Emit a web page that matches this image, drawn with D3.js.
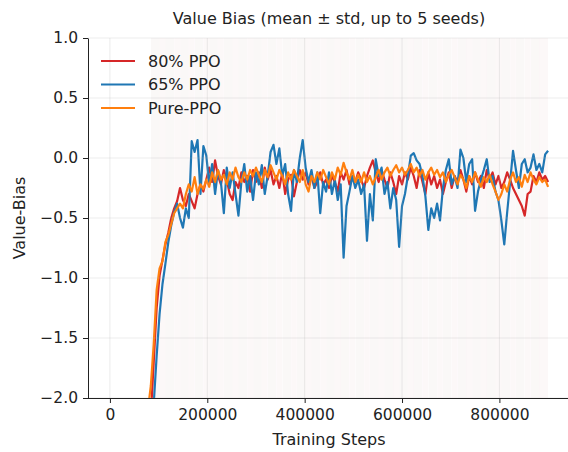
<!DOCTYPE html>
<html>
<head>
<meta charset="utf-8">
<script src="https://cdn.jsdelivr.net/npm/d3@7"></script>
<style>
  body { margin: 0; background: #fff; }
  text { font-family: "DejaVu Sans", sans-serif; fill: #222; }
</style>
</head>
<body>
<svg id="chart" width="568" height="452"></svg>
<script>
// training steps: logged every 6000 steps from 78000 to 900000
var stepStart = 78000
var stepSize = 6000

var seriesNames = ['80% PPO', '65% PPO', 'Pure-PPO']
var seriesColors = ['#d62728', '#1f77b4', '#ff7f0e']

var bias80 = [-2.6,-2.15,-1.7,-1.25,-0.98,-0.85,-0.72,-0.62,-0.5,-0.42,
  -0.36,-0.25,-0.35,-0.4,-0.3,-0.36,-0.42,-0.3,-0.22,-0.28,
  -0.18,-0.08,-0.2,-0.02,-0.15,-0.22,-0.1,-0.18,-0.3,-0.35,
  -0.2,-0.25,-0.12,-0.2,-0.15,-0.28,-0.1,-0.2,-0.12,-0.25,
  -0.08,-0.18,-0.1,-0.22,-0.15,-0.25,-0.12,-0.3,-0.18,-0.14,
  -0.32,-0.2,-0.1,-0.18,-0.12,-0.22,-0.15,-0.25,-0.2,-0.12,
  -0.22,-0.18,-0.25,-0.15,-0.2,-0.28,-0.12,-0.18,-0.1,-0.22,
  -0.15,-0.2,-0.12,-0.18,-0.25,-0.15,-0.08,-0.02,-0.12,-0.2,
  -0.1,-0.18,-0.25,-0.12,-0.2,-0.3,-0.15,-0.22,-0.12,-0.18,
  -0.08,-0.15,-0.25,-0.1,-0.2,-0.3,-0.12,-0.22,-0.15,-0.25,
  -0.18,-0.3,-0.2,-0.12,-0.25,-0.15,-0.2,-0.1,-0.18,-0.28,
  -0.15,-0.22,-0.12,-0.2,-0.15,-0.25,-0.1,-0.18,-0.12,-0.22,
  -0.15,-0.25,-0.2,-0.12,-0.18,-0.25,-0.3,-0.35,-0.4,-0.48,
  -0.3,-0.28,-0.15,-0.2,-0.12,-0.18,-0.15,-0.2]

var bias65 = [-3.0,-2.5,-2.05,-1.65,-1.3,-1.05,-0.88,-0.7,-0.56,-0.45,
  -0.38,-0.5,-0.58,-0.42,-0.5,0.14,0.05,0.15,-0.3,0.1,
  0.02,-0.22,-0.05,-0.3,-0.1,-0.2,-0.46,-0.08,-0.25,-0.12,
  -0.3,-0.48,-0.2,-0.05,-0.28,-0.15,-0.35,-0.12,-0.22,-0.06,
  -0.3,-0.15,0.05,0.11,-0.05,0.08,-0.15,-0.05,-0.3,-0.44,
  -0.1,-0.2,0.0,0.15,-0.08,-0.2,-0.1,-0.25,-0.12,-0.46,
  -0.2,-0.28,-0.12,-0.3,-0.18,-0.35,-0.22,-0.83,-0.4,-0.28,
  -0.15,-0.25,-0.18,-0.3,-0.22,-0.69,-0.3,-0.52,-0.01,-0.15,
  -0.08,-0.3,-0.2,-0.42,-0.25,-0.35,-0.74,-0.4,-0.3,-0.15,
  0.02,0.04,-0.02,-0.05,-0.15,-0.32,-0.6,-0.42,-0.5,-0.38,
  -0.52,-0.25,-0.1,-0.01,-0.22,-0.15,-0.25,0.07,0.0,-0.2,
  -0.05,-0.01,-0.44,-0.28,-0.18,-0.1,-0.01,-0.2,-0.15,-0.28,
  -0.35,-0.52,-0.72,-0.45,-0.2,0.06,-0.1,-0.25,-0.05,-0.01,
  -0.12,-0.08,0.03,-0.1,-0.05,-0.12,0.03,0.06]

var biasPure = [-2.1,-1.9,-1.55,-1.1,-0.92,-0.86,-0.7,-0.64,-0.55,-0.46,
  -0.42,-0.38,-0.42,-0.3,-0.22,-0.28,-0.16,-0.3,-0.22,-0.26,
  -0.18,-0.24,-0.12,-0.2,-0.1,-0.18,-0.14,-0.22,-0.12,-0.18,
  -0.08,-0.16,-0.2,-0.12,-0.18,-0.1,-0.15,-0.08,-0.14,-0.2,
  -0.1,-0.16,-0.06,-0.12,-0.18,-0.1,-0.15,-0.22,-0.12,-0.18,
  -0.1,-0.15,-0.2,-0.1,-0.22,-0.28,-0.15,-0.2,-0.12,-0.18,
  -0.1,-0.16,-0.22,-0.12,-0.18,-0.08,-0.14,-0.04,-0.12,-0.18,
  -0.1,-0.2,-0.14,-0.2,-0.12,-0.2,-0.15,-0.22,-0.16,-0.1,
  -0.18,-0.12,-0.08,-0.15,-0.1,-0.06,-0.12,-0.08,-0.14,-0.1,
  -0.05,-0.12,-0.08,-0.15,-0.1,-0.18,-0.12,-0.08,-0.14,-0.1,
  -0.16,-0.12,-0.2,-0.14,-0.1,-0.16,-0.22,-0.14,-0.18,-0.25,
  -0.15,-0.2,-0.12,-0.18,-0.24,-0.16,-0.2,-0.14,-0.22,-0.28,
  -0.35,-0.3,-0.22,-0.28,-0.18,-0.12,-0.2,-0.16,-0.24,-0.14,
  -0.2,-0.12,-0.18,-0.22,-0.16,-0.2,-0.18,-0.24]

// std band (very wide, so it fills the whole plot height once clipped)
var bandSteps = [84000,102000,114000,132000,144000,162000,174000,192000,204000,222000,
  234000,252000,264000,282000,294000,312000,324000,342000,354000,372000,
  384000,402000,414000,432000,444000,462000,474000,492000,504000,522000,
  534000,552000,564000,582000,594000,612000,624000,642000,654000,672000,
  684000,702000,714000,732000,744000,762000,774000,792000,804000,822000,
  834000,852000,864000,882000,900000]
var std80 = [4.1,3.6,3.9,4.4,3.8,4.2,3.7,4.0,4.5,3.9,4.1,3.8,4.3,3.6,4.0,4.2,3.9,4.4,3.7,4.1,3.8,4.0,4.3,3.9,4.2,3.7,4.0,
  4.1,3.6,3.9,4.4,3.8,4.2,3.7,4.0,4.5,3.9,4.1,3.8,4.3,3.6,4.0,4.2,3.9,4.4,3.7,4.1,3.8,4.0,4.3,3.9,4.2,3.7,4.0]
var std65 = [5.2,4.8,5.5,4.9,5.1,4.6,5.3,5.0,4.7,5.4,4.9,5.2,4.8,5.0,5.3,4.7,5.1,4.9,5.5,4.8,5.0,5.2,4.6,5.1,4.9,5.3,5.0,
  5.2,4.8,5.5,4.9,5.1,4.6,5.3,5.0,4.7,5.4,4.9,5.2,4.8,5.0,5.3,4.7,5.1,4.9,5.5,4.8,5.0,5.2,4.6,5.1,4.9,5.3,5.0]
var stdPure = [3.6,3.9,3.4,3.8,3.5,4.0,3.7,3.4,3.9,3.6,3.8,3.5,3.7,4.0,3.4,3.8,3.6,3.9,3.5,3.7,4.0,3.6,3.8,3.4,3.7,3.9,3.6,
  3.6,3.9,3.4,3.8,3.5,4.0,3.7,3.4,3.9,3.6,3.8,3.5,3.7,4.0,3.4,3.8,3.6,3.9,3.5,3.7,4.0,3.6,3.8,3.4,3.7,3.9,3.6]

var xTicks = [0, 200000, 400000, 600000, 800000]
var yTicks = [-2.0, -1.5, -1.0, -0.5, 0.0, 0.5, 1.0]

var W = 568, H = 452
var margin = ({top: 38, right: -2, bottom: 54, left: 88})
var fontSize = 15.5

var svg = d3.select('#chart')

var x = d3.scaleLinear()
    .domain([-45000, 945000])
    .range([margin.left, W - margin.right])
var y = d3.scaleLinear()
    .domain([-2, 1])
    .range([H - margin.bottom, margin.top])

svg.append('defs').append('clipPath').attr('id', 'plotclip')
    .append('rect')
    .attr('x', margin.left).attr('y', margin.top)
    .attr('width', W - margin.right - margin.left)
    .attr('height', H - margin.bottom - margin.top)

var series = [bias80, bias65, biasPure].map(function(vals){
    return vals.map(function(v, i){ return {step: stepStart + i * stepSize, v: v} })
})
var stds = [std80, std65, stdPure]

var plot = svg.append('g').attr('clip-path', 'url(#plotclip)')

// std bands: one rect per logging window, very low alpha
stds.forEach(function(sd, k){
    var means = series[k]
    plot.append('g').selectAll('rect')
        .data(sd.map(function(s, i){
            var lo = bandSteps[i], hi = bandSteps[i + 1]
            var m = means.filter(d => d.step >= lo && d.step <= hi)
            var mu = d3.mean(m, d => d.v)
            return {lo: lo, hi: hi, top: mu + s, bot: mu - s}
        }))
        .join('rect')
        .attr('x', d => x(d.lo))
        .attr('width', d => x(d.hi) - x(d.lo))
        .attr('y', d => y(Math.min(d.top, 1.2)))
        .attr('height', d => y(Math.max(d.bot, -2.2)) - y(Math.min(d.top, 1.2)))
        .attr('fill', seriesColors[k])
        .attr('fill-opacity', (d, i) => i % 2 ? 0.011 : 0.016)
})

// grid
svg.append('g').selectAll('line')
    .data(xTicks)
    .join('line')
    .attr('x1', d => x(d)).attr('x2', d => x(d))
    .attr('y1', margin.top).attr('y2', H - margin.bottom)
    .attr('stroke', '#b0b0b0').attr('stroke-opacity', 0.3).attr('stroke-width', 0.8)
svg.append('g').selectAll('line')
    .data(yTicks)
    .join('line')
    .attr('x1', margin.left).attr('x2', W)
    .attr('y1', d => y(d)).attr('y2', d => y(d))
    .attr('stroke', '#b0b0b0').attr('stroke-opacity', 0.3).attr('stroke-width', 0.8)

var line = d3.line()
    .x(d => x(d.step))
    .y(d => y(d.v))

series.forEach(function(s, k){
    plot.append('path')
        .datum(s)
        .attr('fill', 'none')
        .attr('stroke', seriesColors[k])
        .attr('stroke-width', 2.2)
        .attr('stroke-linejoin', 'round')
        .attr('d', line)
})

// axes
var xAxis = g => g
    .attr('transform', `translate(0,${H - margin.bottom})`)
    .call(d3.axisBottom(x).tickValues(xTicks).tickFormat(d3.format('d')).tickSize(5).tickPadding(6).tickSizeOuter(0))
var yAxis = g => g
    .attr('transform', `translate(${margin.left},0)`)
    .call(d3.axisLeft(y).tickValues(yTicks).tickFormat(d3.format('.1f')).tickSize(5).tickPadding(5).tickSizeOuter(0))

var gx = svg.append('g').call(xAxis)
var gy = svg.append('g').call(yAxis)
gx.select('.domain').attr('d', `M${margin.left},0.5H${W}`)
;[gx, gy].forEach(function(g){
    g.selectAll('text').attr('font-size', fontSize).attr('font-family', 'DejaVu Sans').attr('fill', '#222')
    g.selectAll('line').attr('stroke', '#222')
    g.select('.domain').attr('stroke', '#222')
})
gy.selectAll('text').text(d => d3.format('.1f')(d).replace('-', '\u2212'))

svg.append('text')
    .attr('x', (margin.left + W - margin.right) / 2)
    .attr('y', 24)
    .attr('text-anchor', 'middle')
    .attr('font-size', 16)
    .text('Value Bias (mean \u00b1 std, up to 5 seeds)')

svg.append('text')
    .attr('x', (margin.left + W - margin.right) / 2)
    .attr('y', 445)
    .attr('text-anchor', 'middle')
    .attr('font-size', 16)
    .text('Training Steps')

svg.append('text')
    .attr('transform', `translate(25,${(margin.top + H - margin.bottom) / 2}) rotate(-90)`)
    .attr('text-anchor', 'middle')
    .attr('font-size', 16)
    .text('Value-Bias')

// legend
var legend = svg.append('g')
seriesNames.forEach(function(name, k){
    var ly = 61 + k * 23.5
    legend.append('line')
        .attr('x1', 101).attr('x2', 135)
        .attr('y1', ly).attr('y2', ly)
        .attr('stroke', seriesColors[k]).attr('stroke-width', 2.2)
    legend.append('text')
        .attr('x', 148).attr('y', ly + 5.5)
        .attr('font-size', 16)
        .text(name)
})
</script>
</body>
</html>
